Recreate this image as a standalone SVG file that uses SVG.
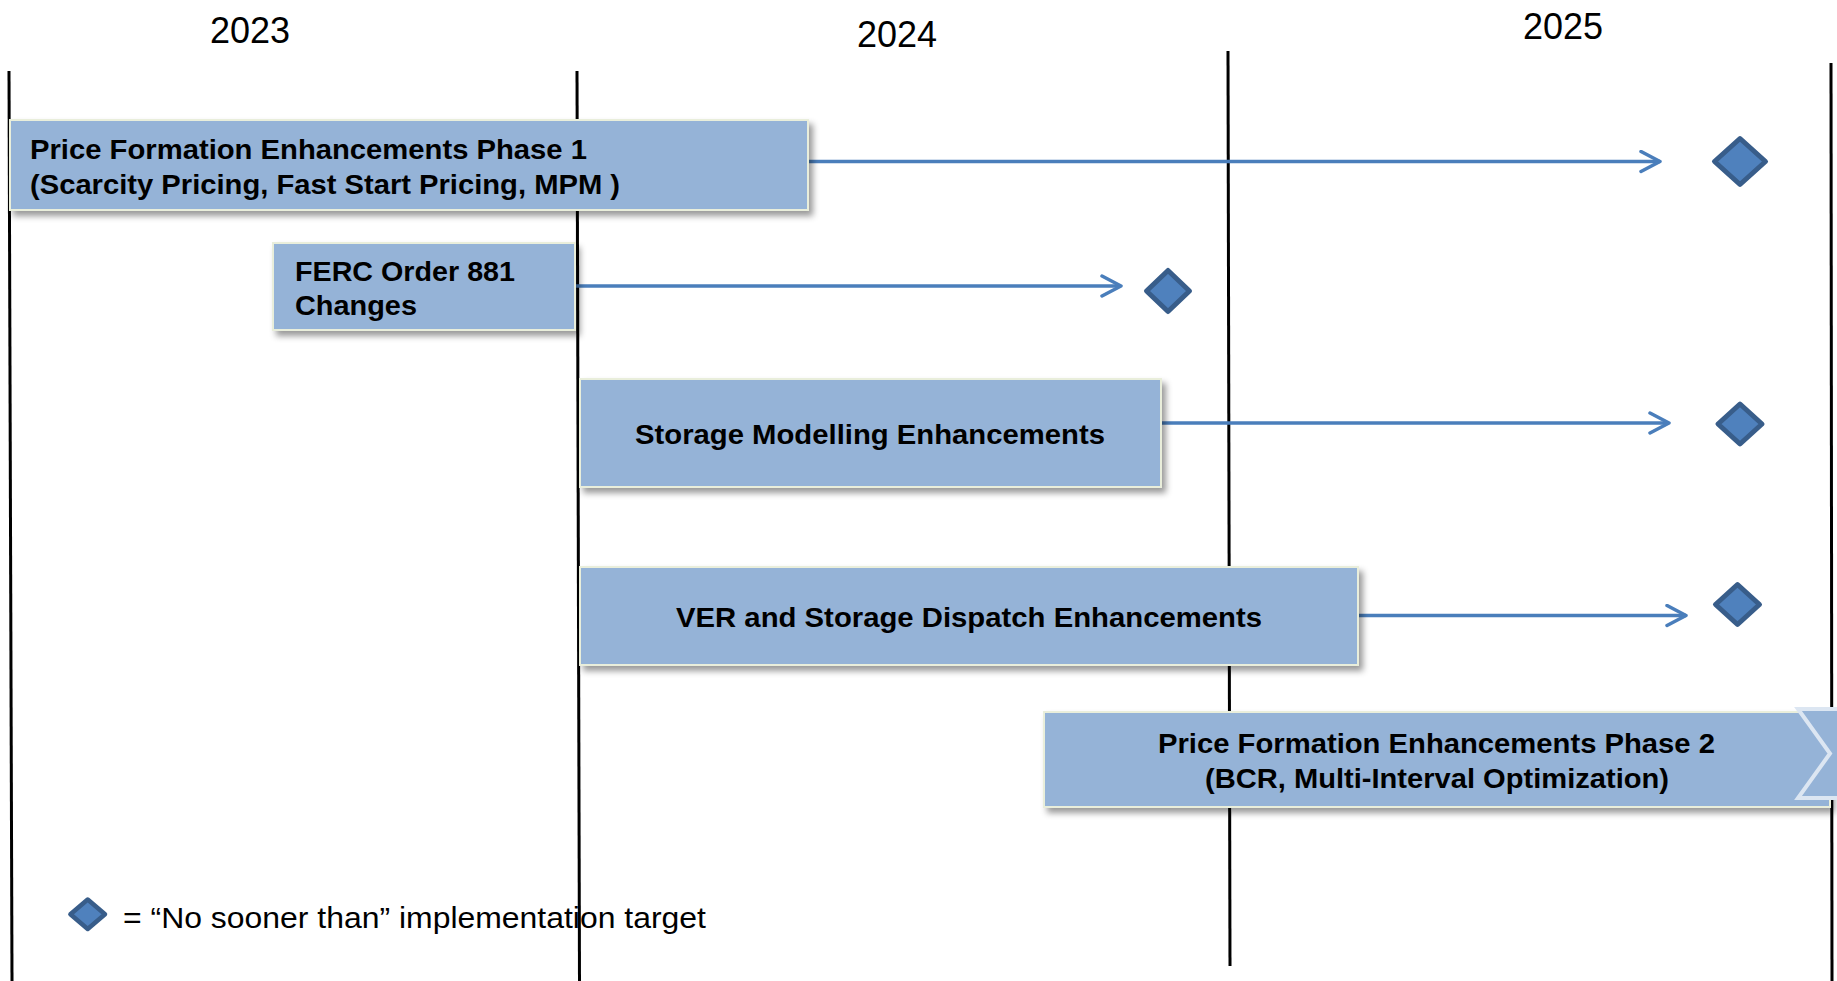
<svg xmlns="http://www.w3.org/2000/svg" width="1837" height="981" viewBox="0 0 1837 981">
<style>
.bg{fill:#ffffff}
.grid{stroke:#000000;stroke-width:3;fill:none}
.year{font-family:"Liberation Sans",Arial,sans-serif;font-size:36px;fill:#000000;text-anchor:middle}
.box{fill:#95B3D7;stroke:#E9EEDB;stroke-width:2;filter:url(#sh)}
.lbl{font-family:"Liberation Sans",Arial,sans-serif;font-size:28px;font-weight:bold;fill:#000000}
.conn{stroke:#4A7EBB;stroke-width:3.5;fill:none;marker-end:url(#ah)}
.dia{fill:#4F81BD;stroke:#385D8A;stroke-width:5;stroke-linejoin:round}
.leg{font-family:"Liberation Sans",Arial,sans-serif;font-size:29px;fill:#000000}
</style>
<defs>
<filter id="sh" x="-5%" y="-20%" width="112%" height="150%">
<feDropShadow dx="4" dy="5" stdDeviation="3" flood-color="#000000" flood-opacity="0.4"/>
</filter>
<marker id="ah" markerUnits="userSpaceOnUse" markerWidth="30" markerHeight="30" refX="21" refY="12" orient="auto">
<path d="M2,2 L21,12 L2,22" fill="none" stroke="#4A7EBB" stroke-width="3.5" stroke-linecap="round" stroke-linejoin="round"/>
</marker>
</defs>
<rect class="bg" x="0" y="0" width="1837" height="981"/>
<g id="timeline">
<line class="grid" x1="9" y1="71" x2="12" y2="981"/>
<line class="grid" x1="577" y1="71" x2="579.5" y2="981"/>
<line class="grid" x1="1228" y1="51" x2="1230" y2="966"/>
<line class="grid" x1="1831" y1="63" x2="1832" y2="981"/>
<text class="year" x="250" y="43">2023</text>
<text class="year" x="897" y="47">2024</text>
<text class="year" x="1563" y="39">2025</text>
</g>
<g id="connectors">
<line class="conn" x1="808" y1="161.5" x2="1660" y2="161.5"/>
<line class="conn" x1="575" y1="286" x2="1121" y2="286"/>
<line class="conn" x1="1161" y1="423" x2="1669" y2="423"/>
<line class="conn" x1="1358" y1="615.5" x2="1686" y2="615.5"/>
</g>
<g id="node-pfe1">
<rect class="box" x="10" y="120" width="798" height="90"/>
<text class="lbl" x="30" y="158.5" textLength="557" lengthAdjust="spacingAndGlyphs">Price Formation Enhancements Phase 1</text>
<text class="lbl" x="30" y="193.5" textLength="590" lengthAdjust="spacingAndGlyphs">(Scarcity Pricing, Fast Start Pricing, MPM )</text>
</g>
<g id="node-ferc">
<rect class="box" x="273" y="243" width="302" height="87"/>
<text class="lbl" x="295" y="280.5" textLength="220" lengthAdjust="spacingAndGlyphs">FERC Order 881</text>
<text class="lbl" x="295" y="314.5" textLength="122" lengthAdjust="spacingAndGlyphs">Changes</text>
</g>
<g id="node-storage">
<rect class="box" x="580" y="379" width="581" height="108"/>
<text class="lbl" x="635" y="443.5" textLength="470" lengthAdjust="spacingAndGlyphs">Storage Modelling Enhancements</text>
</g>
<g id="node-ver">
<rect class="box" x="580" y="567" width="778" height="98"/>
<text class="lbl" x="676" y="626.5" textLength="586" lengthAdjust="spacingAndGlyphs">VER and Storage Dispatch Enhancements</text>
</g>
<g id="node-pfe2">
<rect class="box" x="1044" y="712" width="786" height="95"/>
<path d="M1845,709 L1798,709 L1830,753.5 L1798,798 L1845,798" fill="#95B3D7" stroke="#DCE6F2" stroke-width="4"/>
<text class="lbl" x="1158" y="752.5" textLength="557" lengthAdjust="spacingAndGlyphs">Price Formation Enhancements Phase 2</text>
<text class="lbl" x="1205" y="787.5" textLength="464" lengthAdjust="spacingAndGlyphs">(BCR, Multi-Interval Optimization)</text>
</g>
<g id="milestone-pfe1">
<path class="dia" d="M1740,138.5 L1765.5,161.5 L1740,184.5 L1714.5,161.5 Z"/>
</g>
<g id="milestone-ferc">
<path class="dia" d="M1168,270.5 L1189.5,291 L1168,311.5 L1146.5,291 Z"/>
</g>
<g id="milestone-storage">
<path class="dia" d="M1740,404 L1762,424 L1740,444 L1718,424 Z"/>
</g>
<g id="milestone-ver">
<path class="dia" d="M1737.5,584.5 L1759.5,604.5 L1737.5,624.5 L1715.5,604.5 Z"/>
</g>
<g id="legend">
<path class="dia" d="M87.7,899.5 L105,914.3 L87.7,929 L70.4,914.3 Z" style="stroke-width:4.5"/>
<text class="leg" x="123" y="928" textLength="583" lengthAdjust="spacingAndGlyphs">= “No sooner than” implementation target</text>
</g>
</svg>
